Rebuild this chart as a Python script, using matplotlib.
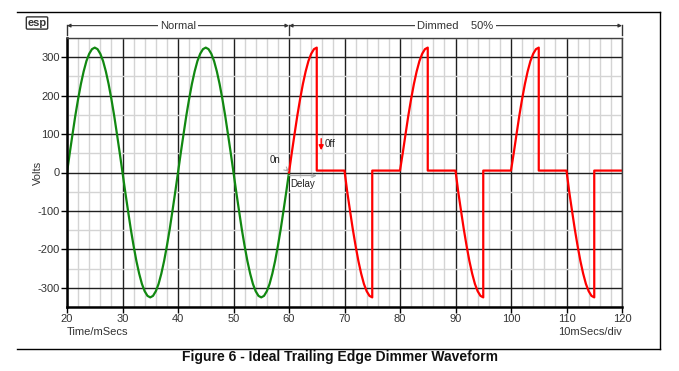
import matplotlib
matplotlib.use('Agg')
import matplotlib.pyplot as plt
from matplotlib.lines import Line2D
from matplotlib.ticker import MultipleLocator

plt.rcParams['font.family'] = ['Liberation Sans', 'DejaVu Sans']
plt.rcParams['axes.unicode_minus'] = False

# normal mains voltage, read every 0.5 ms (20 .. 60 ms)
normal_t = [20, 20.5, 21, 21.5, 22, 22.5, 23, 23.5, 24, 24.5, 25, 25.5, 26, 26.5, 27, 27.5, 28, 28.5, 29, 29.5,
            30, 30.5, 31, 31.5, 32, 32.5, 33, 33.5, 34, 34.5, 35, 35.5, 36, 36.5, 37, 37.5, 38, 38.5, 39, 39.5,
            40, 40.5, 41, 41.5, 42, 42.5, 43, 43.5, 44, 44.5, 45, 45.5, 46, 46.5, 47, 47.5, 48, 48.5, 49, 49.5,
            50, 50.5, 51, 51.5, 52, 52.5, 53, 53.5, 54, 54.5, 55, 55.5, 56, 56.5, 57, 57.5, 58, 58.5, 59, 59.5, 60]
normal_v = [0, 51, 100, 148, 191, 230, 263, 290, 309, 321, 325, 321, 309, 290, 263, 230, 191, 148, 100, 51,
            0, -51, -100, -148, -191, -230, -263, -290, -309, -321, -325, -321, -309, -290, -263, -230, -191, -148, -100, -51,
            0, 51, 100, 148, 191, 230, 263, 290, 309, 321, 325, 321, 309, 290, 263, 230, 191, 148, 100, 51,
            0, -51, -100, -148, -191, -230, -263, -290, -309, -321, -325, -321, -309, -290, -263, -230, -191, -148, -100, -51, 0]

# trailing edge dimmed output (60 .. 120 ms)
dimmed_t = [60, 60.5, 61, 61.5, 62, 62.5, 63, 63.5, 64, 64.5, 65, 65, 70,
            70.5, 71, 71.5, 72, 72.5, 73, 73.5, 74, 74.5, 75, 75, 80,
            80.5, 81, 81.5, 82, 82.5, 83, 83.5, 84, 84.5, 85, 85, 90,
            90.5, 91, 91.5, 92, 92.5, 93, 93.5, 94, 94.5, 95, 95, 100,
            100.5, 101, 101.5, 102, 102.5, 103, 103.5, 104, 104.5, 105, 105, 110,
            110.5, 111, 111.5, 112, 112.5, 113, 113.5, 114, 114.5, 115, 115, 120]
dimmed_v = [0, 51, 100, 148, 191, 230, 263, 290, 309, 321, 325, 5, 5,
            -51, -100, -148, -191, -230, -263, -290, -309, -321, -325, 5, 5,
            51, 100, 148, 191, 230, 263, 290, 309, 321, 325, 5, 5,
            -51, -100, -148, -191, -230, -263, -290, -309, -321, -325, 5, 5,
            51, 100, 148, 191, 230, 263, 290, 309, 321, 325, 5, 5,
            -51, -100, -148, -191, -230, -263, -290, -309, -321, -325, 5, 5]

x_ticks = [20, 30, 40, 50, 60, 70, 80, 90, 100, 110, 120]
y_ticks = [-300, -200, -100, 0, 100, 200, 300]

fig = plt.figure(figsize=(6.79, 3.71), dpi=100)
ax = fig.add_axes([67 / 679, 1 - 307 / 371, 555 / 679, 269 / 371])

ax.set_xlim(20, 120)
ax.set_ylim(-350, 350)
ax.set_xticks(x_ticks)
ax.set_yticks(y_ticks)
ax.xaxis.set_minor_locator(MultipleLocator(2))
ax.yaxis.set_minor_locator(MultipleLocator(50))
ax.grid(which='minor', color='#d4d4d4', lw=1.0)
ax.grid(which='major', color='#202020', lw=1.0)
ax.set_axisbelow(True)
ax.tick_params(which='minor', length=0)
ax.tick_params(which='major', direction='out', length=4, width=1, labelsize=8,
               labelcolor='#333333', pad=1)
for s in ['top', 'right']:
    ax.spines[s].set_color('#404040')
    ax.spines[s].set_linewidth(1)
for s in ['left', 'bottom']:
    ax.spines[s].set_linewidth(1.8)

ax.plot(normal_t, normal_v, color='#118811', lw=1.6)
ax.plot(dimmed_t, dimmed_v, color='#ff0000', lw=1.6)

ax.set_ylabel('Volts', fontsize=8, color='#333333')
ax.yaxis.set_label_coords(-0.044, 0.5)
ax.text(0, -0.093, 'Time/mSecs', transform=ax.transAxes, fontsize=8, color='#333333',
        ha='left', va='center')
ax.text(1, -0.093, '10mSecs/div', transform=ax.transAxes, fontsize=8, color='#333333',
        ha='right', va='center')

# Normal / Dimmed span markers above the plot
tr = ax.get_xaxis_transform()
for xs in [20, 60, 120]:
    ax.plot([xs, xs], [1.011, 1.05], color='#333333', lw=1, transform=tr, clip_on=False)
for a, b in [(20, 60), (60, 120)]:
    ax.annotate('', xy=(a, 1.046), xytext=(b, 1.046), xycoords=tr, textcoords=tr,
                arrowprops=dict(arrowstyle='<|-|>', color='#333333', lw=0.8,
                                shrinkA=0, shrinkB=0, mutation_scale=5))
ax.text(40, 1.046, 'Normal', transform=tr, ha='center', va='center', fontsize=8,
        color='#333333', bbox=dict(fc='white', ec='none', pad=1.5))
ax.text(90, 1.046, 'Dimmed    50%', transform=tr, ha='center', va='center', fontsize=8,
        color='#333333', bbox=dict(fc='white', ec='none', pad=1.5))

# On / Off / Delay annotations
ax.annotate('0n', xy=(60, 2), xytext=(57.5, 32), fontsize=7, color='#222222',
            ha='center', va='center',
            arrowprops=dict(arrowstyle='->', color='#aaaaaa', lw=0.8,
                            shrinkA=3, shrinkB=0))
ax.annotate('', xy=(65.8, 58), xytext=(65.8, 88),
            arrowprops=dict(arrowstyle='-|>', color='#ff0000', lw=1,
                            shrinkA=0, shrinkB=0, mutation_scale=7))
ax.text(66.4, 73, '0ff', fontsize=7, color='#222222', ha='left', va='center')
ax.annotate('', xy=(65, -8), xytext=(60, -8),
            arrowprops=dict(arrowstyle='->', color='#aaaaaa', lw=0.8,
                            shrinkA=0, shrinkB=0, mutation_scale=6))
ax.text(60.3, -30, 'Delay', fontsize=7, color='#222222', ha='left', va='center',
        bbox=dict(fc='white', ec='none', pad=0.5))

# little logo top left
fig.text(37 / 679, 1 - 23 / 371, 'esp', fontsize=8, ha='center', va='center',
         fontweight='bold', color='#333333',
         bbox=dict(boxstyle='round,pad=0.1', fc='white', ec='#333333', lw=1))

# outer frame (no left edge)
fig.add_artist(Line2D([17 / 679, 660 / 679], [1 - 12 / 371, 1 - 12 / 371], color='black', lw=1))
fig.add_artist(Line2D([660 / 679, 660 / 679], [1 - 12 / 371, 1 - 349 / 371], color='black', lw=1))
fig.add_artist(Line2D([17 / 679, 660 / 679], [1 - 349 / 371, 1 - 349 / 371], color='black', lw=1))

fig.text(340 / 679, 1 - 357 / 371, 'Figure 6 - Ideal Trailing Edge Dimmer Waveform',
         ha='center', va='center', fontsize=10, fontweight='bold', color='#111111')

fig.savefig('out.png', dpi=100)
